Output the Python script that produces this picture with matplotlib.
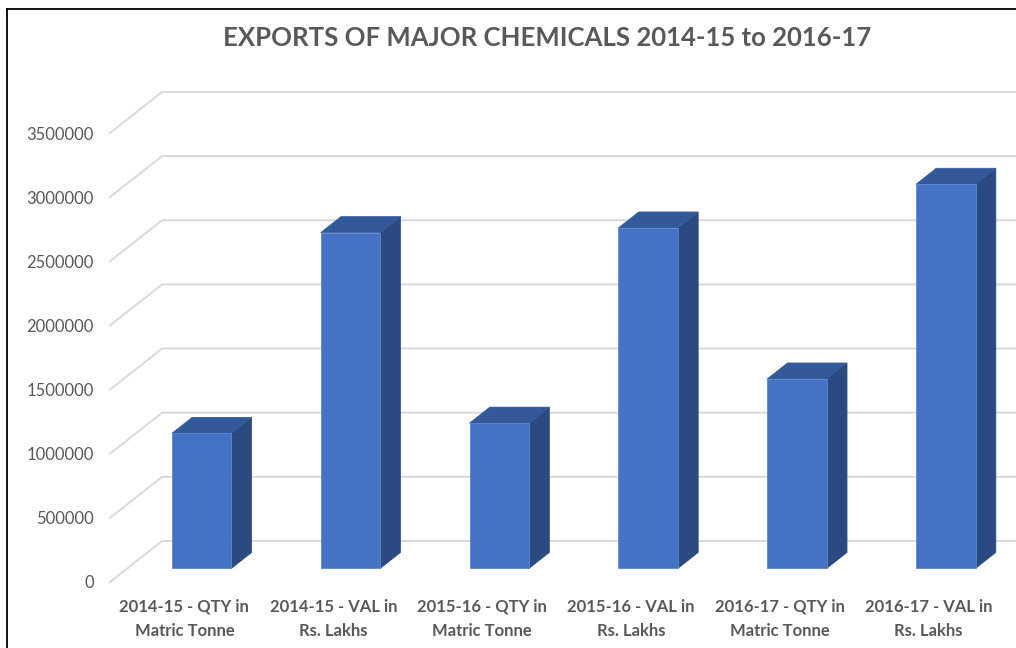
import matplotlib.pyplot as plt
from matplotlib.patches import Polygon
from matplotlib.lines import Line2D

# Data
categories = ["2014-15 - QTY in\nMatric Tonne", "2014-15 - VAL in\nRs. Lakhs",
              "2015-16 - QTY in\nMatric Tonne", "2015-16 - VAL in\nRs. Lakhs",
              "2016-17 - QTY in\nMatric Tonne", "2016-17 - VAL in\nRs. Lakhs"]
values = [1053000, 2618000, 1133000, 2654000, 1477000, 2995000]
yticks = [0, 500000, 1000000, 1500000, 2000000, 2500000, 3000000, 3500000]

plt.rcParams['font.family'] = ['Lato', 'DejaVu Sans']
text_col = "#595959"

fig = plt.figure(figsize=(10.16, 6.48), dpi=100)
ax = fig.add_axes([110 / 1016, 66 / 648, 893 / 1016, 449 / 648])
ax.set_xlim(-0.5, 5.5)
ax.set_ylim(0, 3500000)

# oblique depth of the 3D box (in data units)
depth_x = 0.35
depth_y = 320000
d0, d1 = 0.33, 0.72   # bar depth range (fraction of box depth)
w = 0.40

# walls / gridlines
for t in yticks:
    xs = [-0.5, -0.5 + depth_x, 6.5]
    ys = [t, t + depth_y, t + depth_y]
    ax.plot(xs, ys, color="#d9d9d9", lw=1.4, clip_on=False, zorder=1)

front_c = "#4472c4"
top_c = "#325a9a"
side_c = "#2b4a80"
for i, v in enumerate(values):
    ox0, oy0 = d0 * depth_x, d0 * depth_y
    ox1, oy1 = d1 * depth_x, d1 * depth_y
    l, r = i - w / 2, i + w / 2
    front = [(l + ox0, oy0), (r + ox0, oy0), (r + ox0, v + oy0), (l + ox0, v + oy0)]
    side = [(r + ox0, oy0), (r + ox1, oy1), (r + ox1, v + oy1), (r + ox0, v + oy0)]
    top = [(l + ox0, v + oy0), (l + ox1, v + oy1), (r + ox1, v + oy1), (r + ox0, v + oy0)]
    ax.add_patch(Polygon(side, closed=True, fc=side_c, ec=side_c, lw=0.5, zorder=3, clip_on=False))
    ax.add_patch(Polygon(top, closed=True, fc=top_c, ec=top_c, lw=0.5, zorder=3, clip_on=False))
    ax.add_patch(Polygon(front, closed=True, fc=front_c, ec="#5b86d0", lw=0.6, zorder=4, clip_on=False))

ax.set_yticks(yticks)
ax.set_yticklabels([str(t) for t in yticks], fontsize=12, color=text_col)
ax.set_xticks(range(len(categories)))
ax.set_xticklabels(categories, fontsize=12, fontweight="bold", color=text_col, linespacing=1.62)
ax.tick_params(axis="y", length=0, pad=11.5)
ax.tick_params(axis="x", length=0, pad=12)
for s in ax.spines.values():
    s.set_visible(False)

fig.text(547 / 1016, 1 - 38 / 648, "EXPORTS OF MAJOR CHEMICALS 2014-15 to 2016-17",
         ha="center", va="center", fontsize=18.5, fontweight="bold", color=text_col)

# chart frame (left and top edges)
fig.add_artist(Line2D([7 / 1016, 7 / 1016], [0, 1 - 9 / 648], color="black", lw=1.3))
fig.add_artist(Line2D([7 / 1016, 1], [1 - 9 / 648, 1 - 9 / 648], color="black", lw=1.3))

fig.savefig("out.png", dpi=100)
